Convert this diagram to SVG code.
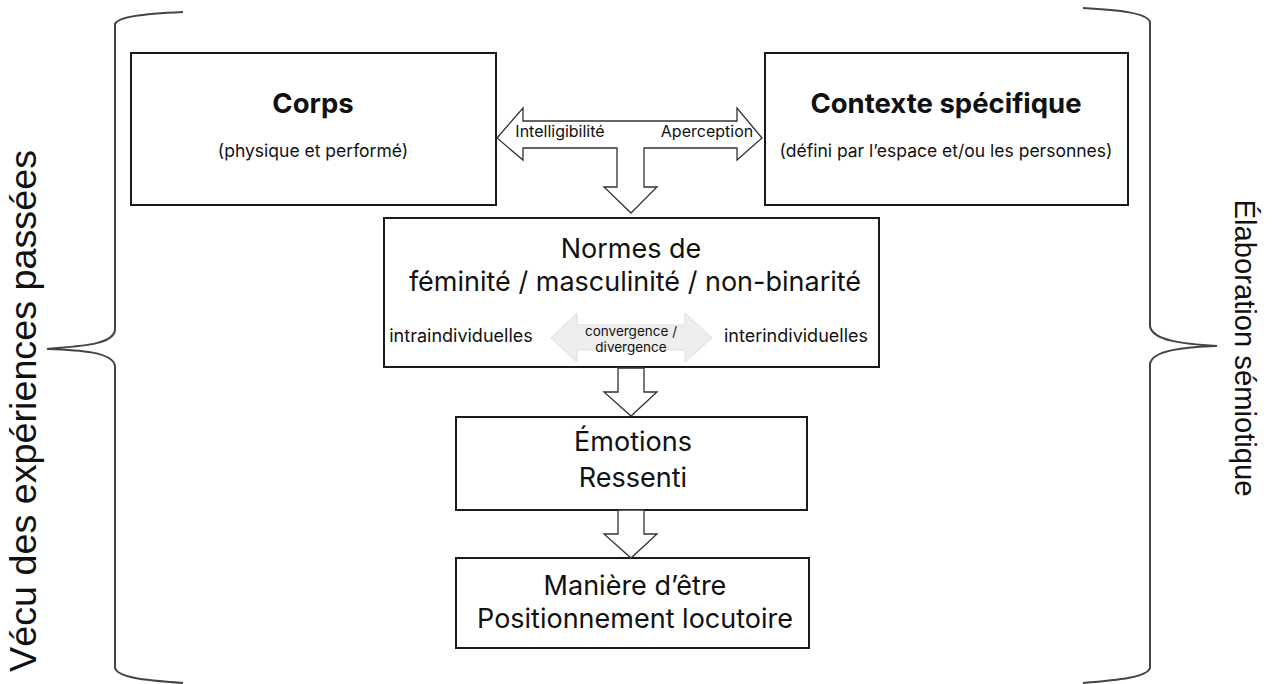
<svg xmlns="http://www.w3.org/2000/svg" width="1272" height="684" viewBox="0 0 1272 684">
<style>
.box{fill:#fff;stroke:#1a1a1a;stroke-width:2}
.arr{fill:#fff;stroke:#333;stroke-width:1.3;stroke-linejoin:miter}
.brace{fill:none;stroke:#444;stroke-width:2}
.t{font-family:Inter,"Noto Sans",sans-serif;fill:#111;text-anchor:middle}
.side{font-family:"Liberation Sans",Arial,sans-serif;fill:#111;text-anchor:middle}
</style>
<rect width="1272" height="684" fill="#fff"/>
<g id="braces">
<path class="brace" d="M183,12 C140,14 118,17 115,24 L115,330 C113,345 80,346 47,349 C80,350 113,352 115,366 L115,668 C118,677 140,680 183,683"/>
<path class="brace" d="M1083,8 C1120,10 1147,13 1150,22 L1150,326 C1152,341 1185,344 1217,346 C1185,347 1152,350 1150,364 L1150,668 C1147,677 1120,680 1083,683"/>
<text class="side" font-size="37" transform="translate(36,411) rotate(-90)" textLength="522" lengthAdjust="spacingAndGlyphs">Vécu des expériences passées</text>
<text class="side" font-size="29" transform="translate(1235,348) rotate(90)" textLength="297" lengthAdjust="spacingAndGlyphs">Élaboration sémiotique</text>
</g>
<g id="corps">
<rect class="box" x="131" y="53" width="365" height="152"/>
<text class="t" x="313" y="113" font-size="27.5" font-weight="700">Corps</text>
<text class="t" x="313" y="157" font-size="17.5">(physique et performé)</text>
</g>
<g id="contexte">
<rect class="box" x="765" y="53" width="363" height="152"/>
<text class="t" x="946" y="113" font-size="27.5" font-weight="700">Contexte spécifique</text>
<text class="t" x="946" y="157" font-size="17.5">(défini par l’espace et/ou les personnes)</text>
</g>
<g id="normes">
<rect class="box" x="384" y="218" width="495" height="149"/>
<text class="t" x="631" y="258" font-size="27">Normes de</text>
<text class="t" x="635" y="291" font-size="27">féminité / masculinité / non-binarité</text>
<text class="t" x="461" y="342" font-size="18">intraindividuelles</text>
<text class="t" x="796" y="342" font-size="18">interindividuelles</text>
<path d="M551,338 L577,313 L577,325 L685,325 L685,313 L712,338 L685,362 L685,350 L577,350 L577,362 Z" fill="#eeeeee" stroke="#dddddd" stroke-width="1"/>
<text class="t" x="631" y="336" font-size="13.5" fill="#444">convergence /</text>
<text class="t" x="631" y="352" font-size="13.5" fill="#444">divergence</text>
</g>
<g id="emotions">
<rect class="box" x="456" y="417" width="351" height="93"/>
<text class="t" x="633" y="451" font-size="27">Émotions</text>
<text class="t" x="633" y="487" font-size="27">Ressenti</text>
</g>
<g id="maniere">
<rect class="box" x="456" y="558" width="353" height="90"/>
<text class="t" x="635" y="595" font-size="27">Manière d’être</text>
<text class="t" x="635" y="628" font-size="27">Positionnement locutoire</text>
</g>
<g id="connectors">
<path class="arr" d="M497,138 L523,108 L523,121 L737,121 L737,108 L762,138 L737,160 L737,148 L644,148 L644,187 L657,187 L631,213 L604,187 L617,187 L617,148 L523,148 L523,160 Z"/>
<text class="t" x="560" y="137" font-size="16">Intelligibilité</text>
<text class="t" x="707" y="137" font-size="16">Aperception</text>
<path class="arr" d="M618,368 L644,368 L644,392 L657,392 L631,416 L604,392 L618,392 Z"/>
<path class="arr" d="M618,510 L644,510 L644,534 L657,534 L631,558 L604,534 L618,534 Z"/>
</g>
</svg>
